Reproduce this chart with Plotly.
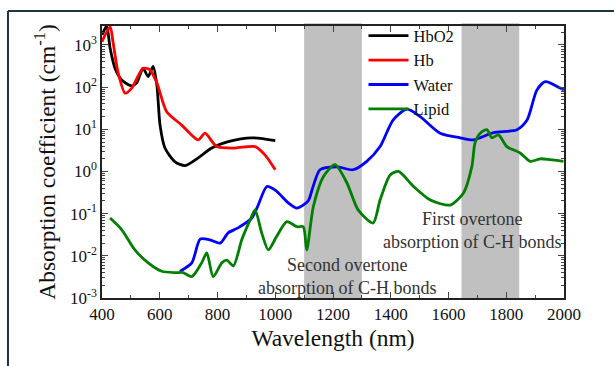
import plotly.graph_objects as go

# ---------------- data ----------------
hbo2_nm = [400, 416, 428, 445, 468, 503, 520, 542, 560, 577, 590, 601, 618, 653, 688, 733, 780, 837, 919, 1000]
hbo2_mu = [1740, 2800, 850, 280, 148, 107, 126, 280, 178, 310, 112, 12.6, 3.6, 1.7, 1.38, 2.1, 3.6, 5.1, 6.3, 5.4]

hb_nm = [400, 428, 438, 455, 480, 503, 542, 566, 590, 624, 676, 733, 757, 797, 860, 930, 965, 1000]
hb_mu = [1200, 2700, 1200, 234, 72, 95, 280, 257, 126, 26, 12.6, 5.6, 8.1, 3.9, 3.6, 3.9, 2.45, 1.1]

water_nm = [670, 711, 740, 774, 809, 837, 871, 919, 941, 971, 1000, 1045, 1075, 1114, 1131, 1155, 1213,
            1270, 1317, 1363, 1408, 1456, 1502, 1571, 1640, 1686, 1756, 1837, 1872, 1906, 1935, 1987, 2000]
water_mu = [0.0043, 0.0068, 0.025, 0.024, 0.020, 0.035, 0.046, 0.079, 0.16, 0.44, 0.36, 0.18, 0.135, 0.20,
            0.44, 1.1, 1.29, 1.1, 1.74, 3.9, 16.6, 30, 20, 8.1, 6.3, 5.6, 8.3, 9.8, 16.6, 85, 135, 95, 85]

lipid_nm = [428, 468, 514, 560, 607, 653, 681, 711, 745, 763, 785, 815, 832, 855, 884, 913, 930, 953, 976,
            1005, 1040, 1075, 1097, 1109, 1132, 1167, 1207, 1248, 1287, 1339, 1363, 1398, 1427, 1479, 1537,
            1606, 1652, 1681, 1692, 1710, 1733, 1750, 1773, 1802, 1848, 1883, 1918, 1952, 1998]
lipid_mu = [0.079, 0.042, 0.0138, 0.0068, 0.0043, 0.004, 0.004, 0.0032, 0.0068, 0.0117, 0.0032, 0.0068,
            0.0079, 0.0058, 0.024, 0.071, 0.123, 0.035, 0.0138, 0.029, 0.065, 0.049, 0.049, 0.0138, 0.148,
            0.76, 1.45, 0.54, 0.123, 0.060, 0.21, 0.83, 1.0, 0.44, 0.21, 0.16, 0.31, 1.32, 4.8, 8.1, 9.8,
            6.3, 7.4, 3.9, 2.75, 1.74, 2.0, 1.9, 1.74]

bands = [(1100, 1300), (1645, 1845)]

x_ticks = [400, 600, 800, 1000, 1200, 1400, 1600, 1800, 2000]
y_ticks = [1e-3, 1e-2, 1e-1, 1e0, 1e1, 1e2, 1e3]
y_ticktext = ["10<sup>-3</sup>", "10<sup>-2</sup>", "10<sup>-1</sup>", "10<sup>0</sup>",
              "10<sup>1</sup>", "10<sup>2</sup>", "10<sup>3</sup>"]

series = [
    ("HbO2", hbo2_nm, hbo2_mu, "#000000"),
    ("Hb", hb_nm, hb_mu, "#ff0000"),
    ("Water", water_nm, water_mu, "#0000ff"),
    ("Lipid", lipid_nm, lipid_mu, "#007f00"),
]

FONT = "Liberation Serif"

fig = go.Figure()
for name, xs, ys, col in series:
    fig.add_trace(go.Scatter(x=xs, y=ys, name=name, mode="lines",
                             line=dict(color=col, width=2.8, shape="spline", smoothing=0.7)))

for x0, x1 in bands:
    fig.add_shape(type="rect", xref="x", yref="paper", x0=x0, x1=x1, y0=0, y1=1.01,
                  fillcolor="#c0c0c0", line=dict(width=0), layer="below")

# outer frame of the picture (top and left dark edges)
fig.add_shape(type="line", xref="paper", yref="paper", x0=-0.2035, x1=1.2, y0=1.055, y1=1.055,
              line=dict(color="#1c3346", width=2))
fig.add_shape(type="line", xref="paper", yref="paper", x0=-0.2035, x1=-0.2035, y0=1.055, y1=-0.26,
              line=dict(color="#1c3346", width=2))

fig.add_annotation(x=1251, y=-2.5, xref="x", yref="y", yanchor="middle",
                   text="Second overtone<br>absorption of C-H bonds", showarrow=False,
                   font=dict(family=FONT, size=18, color="#333333"))
fig.add_annotation(x=1682, y=-1.4, xref="x", yref="y", yanchor="middle",
                   text="First overtone<br>absorption of C-H bonds", showarrow=False,
                   font=dict(family=FONT, size=18, color="#333333"))

minor_y = [m * 10 ** e for e in range(-3, 4) for m in range(2, 10)]

fig.update_layout(
    width=614, height=366,
    margin=dict(l=102, r=50, t=26, b=68),
    paper_bgcolor="white", plot_bgcolor="white",
    font=dict(family=FONT, size=17, color="#111111"),
    showlegend=True,
    legend=dict(x=0.566, y=1.028, xanchor="left", yanchor="top", bgcolor="rgba(0,0,0,0)",
                font=dict(family=FONT, size=16.5, color="#111111"), tracegroupgap=0,
                itemwidth=40),
    xaxis=dict(range=[400, 2000], tickvals=x_ticks, ticks="inside", ticklen=6, tickwidth=1,
               showline=True, linecolor="#222222", linewidth=1.5, mirror="ticks", showgrid=False,
               zeroline=False, tickfont=dict(family=FONT, size=17), automargin=False,
               minor=dict(ticks="inside", ticklen=3, dtick=100, showgrid=False),
               title=dict(text="Wavelength (nm)", font=dict(family=FONT, size=23.5), standoff=6)),
    yaxis=dict(type="log", range=[-3, 3.45], tickvals=y_ticks, ticktext=y_ticktext,
               ticks="inside", ticklen=6, tickwidth=1, automargin=False,
               showline=True, linecolor="#222222", linewidth=1.5, mirror="ticks", showgrid=False,
               zeroline=False, tickfont=dict(family=FONT, size=17),
               minor=dict(ticks="inside", ticklen=3, tickvals=minor_y, showgrid=False),
               title=dict(text="Absorption coefficient (cm<sup>-1</sup>)", font=dict(family=FONT, size=23.5),
                          standoff=8)),
)

fig.write_html("out.html", config={"displayModeBar": False},
               post_script="document.body.style.margin='0px';")
